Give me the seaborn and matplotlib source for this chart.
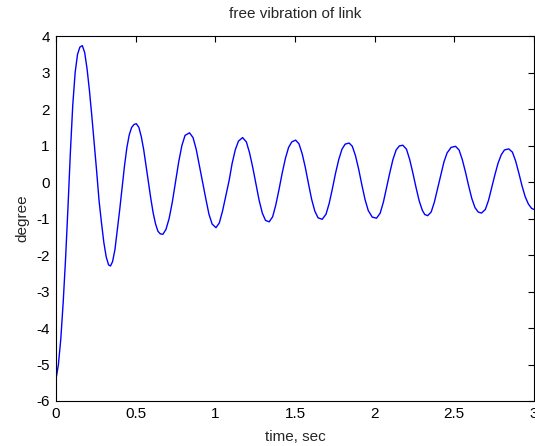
import numpy as np
import pandas as pd
import matplotlib
matplotlib.use("Agg")
import matplotlib.pyplot as plt
import seaborn as sns

# valores (tempo em s, ângulo em graus)
tempo = [
    0.000, 0.015, 0.030, 0.045, 0.060, 0.075, 0.090, 0.105, 0.120, 0.135,
    0.150, 0.165, 0.180, 0.195, 0.210, 0.225, 0.240, 0.255, 0.270, 0.285,
    0.300, 0.315, 0.330, 0.342, 0.355, 0.370, 0.385, 0.400, 0.415, 0.430,
    0.445, 0.460, 0.475, 0.490, 0.504, 0.520, 0.535, 0.550, 0.565, 0.580,
    0.595, 0.610, 0.625, 0.640, 0.655, 0.671, 0.690, 0.710, 0.730, 0.750,
    0.770, 0.790, 0.810, 0.838, 0.860, 0.880, 0.900, 0.920, 0.940, 0.960,
    0.980, 1.004, 1.025, 1.045, 1.065, 1.087, 1.105, 1.125, 1.145, 1.171,
    1.195, 1.215, 1.235, 1.255, 1.275, 1.295, 1.315, 1.338, 1.360, 1.380,
    1.400, 1.420, 1.440, 1.460, 1.480, 1.504, 1.525, 1.545, 1.565, 1.585,
    1.605, 1.625, 1.645, 1.671, 1.695, 1.715, 1.735, 1.755, 1.775, 1.795,
    1.815, 1.840, 1.860, 1.880, 1.900, 1.920, 1.940, 1.960, 1.985, 2.012,
    2.035, 2.055, 2.075, 2.095, 2.115, 2.135, 2.155, 2.177, 2.200, 2.220,
    2.240, 2.260, 2.280, 2.300, 2.315, 2.333, 2.355, 2.375, 2.395, 2.415,
    2.435, 2.455, 2.480, 2.508, 2.530, 2.550, 2.570, 2.590, 2.610, 2.630,
    2.650, 2.671, 2.695, 2.715, 2.735, 2.755, 2.775, 2.795, 2.815, 2.842,
    2.865, 2.885, 2.905, 2.925, 2.945, 2.965, 2.985, 3.000,
]
graus = [
    -5.40, -5.00, -4.30, -3.30, -2.10, -0.70, 0.80, 2.10, 3.00, 3.50,
    3.70, 3.74, 3.55, 3.10, 2.50, 1.80, 1.05, 0.30, -0.50, -1.10,
    -1.65, -2.05, -2.27, -2.30, -2.18, -1.85, -1.30, -0.75, -0.15, 0.45,
    0.95, 1.30, 1.50, 1.58, 1.60, 1.50, 1.25, 0.90, 0.45, 0.00,
    -0.45, -0.85, -1.15, -1.35, -1.42, -1.43, -1.30, -1.00, -0.55, 0.00,
    0.55, 1.00, 1.28, 1.35, 1.22, 0.90, 0.45, 0.00, -0.45, -0.88,
    -1.15, -1.25, -1.12, -0.80, -0.40, 0.05, 0.50, 0.88, 1.12, 1.22,
    1.10, 0.80, 0.40, -0.05, -0.50, -0.85, -1.05, -1.09, -0.95, -0.62,
    -0.20, 0.25, 0.65, 0.95, 1.10, 1.15, 1.05, 0.78, 0.40, -0.05,
    -0.48, -0.80, -0.98, -1.02, -0.88, -0.58, -0.18, 0.25, 0.62, 0.90,
    1.04, 1.07, 0.98, 0.72, 0.35, -0.08, -0.48, -0.78, -0.96, -0.99,
    -0.85, -0.55, -0.15, 0.25, 0.62, 0.88, 0.99, 1.01, 0.90, 0.62,
    0.25, -0.15, -0.52, -0.78, -0.89, -0.92, -0.82, -0.55, -0.18, 0.20,
    0.55, 0.80, 0.95, 0.98, 0.88, 0.62, 0.28, -0.10, -0.45, -0.70,
    -0.82, -0.85, -0.75, -0.50, -0.15, 0.20, 0.52, 0.75, 0.88, 0.91,
    0.82, 0.58, 0.25, -0.10, -0.40, -0.60, -0.72, -0.75,
]
xticks = [0, 0.5, 1, 1.5, 2, 2.5, 3]
xtick_labels = ['0', '0.5', '1', '1.5', '2', '2.5', '3']
yticks = [-6, -5, -4, -3, -2, -1, 0, 1, 2, 3, 4]

df = pd.DataFrame({'tempo': tempo, 'graus': graus})

sns.set_style("white")
plt.rcParams['font.family'] = ['Liberation Sans', 'DejaVu Sans']
plt.rcParams['axes.unicode_minus'] = False

fig = plt.figure(figsize=(5.35, 4.46), dpi=100)
ax = fig.add_axes([0.1047, 0.1009, 0.8933, 0.8181])

sns.lineplot(data=df, x='tempo', y='graus', color='#0000ff', linewidth=1.0,
             ax=ax, sort=False, estimator=None)

ax.set_xlim(0, 3)
ax.set_ylim(-6, 4)
ax.set_xticks(xticks)
ax.set_xticklabels(xtick_labels)
ax.set_yticks(yticks)
ax.tick_params(direction='in', length=4.5, width=0.8, top=True, right=True,
               labelsize=11, colors='black', pad=4.5)
for s in ax.spines.values():
    s.set_color('black')
    s.set_linewidth(0.8)

ax.set_title('free vibration of link', fontsize=11, pad=13)
ax.set_xlabel('time, sec', fontsize=11, labelpad=6)
ax.set_ylabel('degree', fontsize=11, labelpad=5)

fig.savefig('out.png', dpi=100, facecolor='white')
